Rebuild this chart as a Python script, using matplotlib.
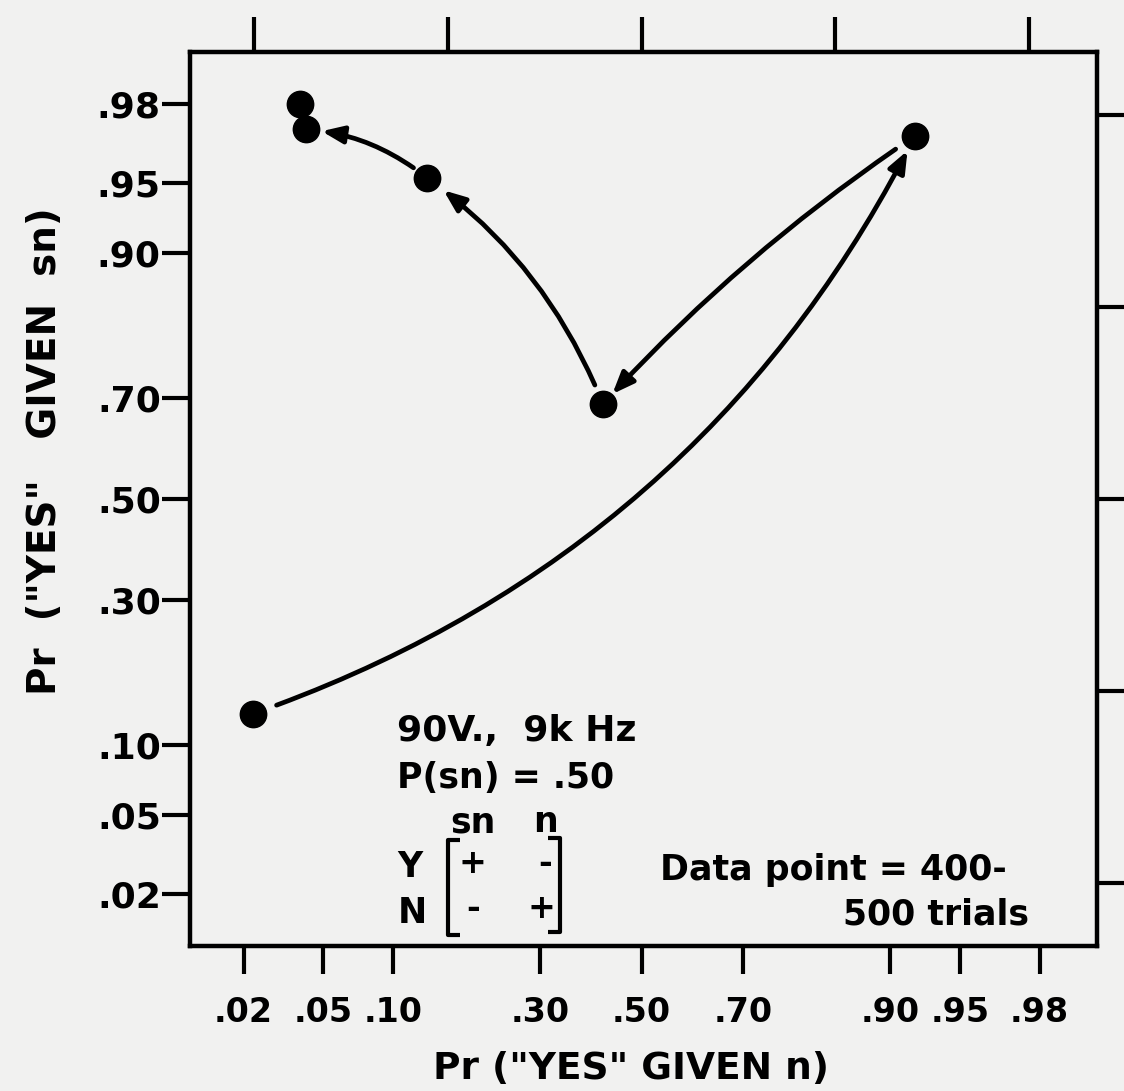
import numpy as np
import matplotlib
matplotlib.use("Agg")
import matplotlib.pyplot as plt
from matplotlib.patches import FancyArrowPatch
from statistics import NormalDist

# ROC points on normal-normal axes
p_yes_n = [0.0225, 0.421, 0.921, 0.134, 0.0419, 0.0389]
p_yes_sn = [0.132, 0.689, 0.9706, 0.9527, 0.9728, 0.980]

# order of the sessions (arrows go from one point to the next)
arrow_from = [0, 2, 1, 3]
arrow_to = [2, 1, 3, 4]
arrow_bend = [0.20, 0.06, 0.145, 0.15]

tick_probs = [0.02, 0.05, 0.10, 0.30, 0.50, 0.70, 0.90, 0.95, 0.98]
tick_labels = [".02", ".05", ".10", ".30", ".50", ".70", ".90", ".95", ".98"]
z_ticks = [-2, -1, 0, 1, 2]

ND = NormalDist()


def probit(p):
    p = np.clip(np.asarray(p, dtype=float), 1e-9, 1 - 1e-9)
    return np.vectorize(ND.inv_cdf, otypes=[float])(p)


def probit_inv(z):
    z = np.asarray(z, dtype=float)
    return np.vectorize(ND.cdf, otypes=[float])(z)


plt.rcParams['font.family'] = ['DejaVu Sans']
plt.rcParams['font.weight'] = 'bold'
bg = '#f1f1f0'

fig = plt.figure(figsize=(11.24, 10.91), dpi=100, facecolor=bg)
ax = fig.add_axes([190 / 1124, 1 - 946 / 1091, 907 / 1124, 894 / 1091])
ax.set_facecolor(bg)

ax.set_xscale('function', functions=(probit, probit_inv))
ax.set_yscale('function', functions=(probit, probit_inv))
xlim = (ND.cdf(-2.33), ND.cdf(2.35))
ylim = (ND.cdf(-2.326), ND.cdf(2.326))
ax.set_xlim(xlim)
ax.set_ylim(ylim)

ax.set_xticks(tick_probs, tick_labels)
ax.set_yticks(tick_probs, tick_labels)
ax.tick_params(axis='both', direction='out', length=20, width=3, color='k')
ax.tick_params(axis='x', labelsize=24, pad=16)
ax.tick_params(axis='y', labelsize=26, pad=1)
for s in ax.spines.values():
    s.set_linewidth(3.2)

# unlabeled ticks at whole z-units on top and right
ax_top = ax.twiny()
ax_top.set_xscale('function', functions=(probit, probit_inv))
ax_top.set_xlim(xlim)
ax_top.set_xticks(probit_inv(z_ticks))
ax_top.tick_params(axis='x', direction='out', length=25, width=3, labeltop=False)
ax_right = ax.twinx()
ax_right.set_yscale('function', functions=(probit, probit_inv))
ax_right.set_ylim(ylim)
ax_right.set_yticks(probit_inv(z_ticks))
ax_right.tick_params(axis='y', direction='out', length=25, width=3, labelright=False)
for a in (ax_top, ax_right):
    for s in a.spines.values():
        s.set_visible(False)

ax.set_xlabel('Pr ("YES" GIVEN n)', fontsize=27, fontweight='bold')
ax.xaxis.set_label_coords(0.486, -0.117)
ax.set_ylabel('Pr  ("YES"   GIVEN  sn)', fontsize=28, fontweight='bold')
ax.yaxis.set_label_coords(-0.139, 0.553)

ax.plot(p_yes_n, p_yes_sn, 'o', color='k', ms=19, zorder=4, clip_on=False)

shrink_a = [18, 17, 15, 12]
shrink_b = [12, 10, 15, 11]
for i in range(len(arrow_from)):
    a, b = arrow_from[i], arrow_to[i]
    arr = FancyArrowPatch((p_yes_n[a], p_yes_sn[a]), (p_yes_n[b], p_yes_sn[b]),
                          connectionstyle=f'arc3,rad={arrow_bend[i]}',
                          arrowstyle='-|>,head_length=0.65,head_width=0.26',
                          mutation_scale=20, lw=3.4, color='k',
                          shrinkA=shrink_a[i], shrinkB=shrink_b[i], zorder=3)
    ax.add_patch(arr)

tr = ax.transAxes
ax.text(0.228, 0.2293, '90V.,  9k Hz', transform=tr, fontsize=26, va='baseline')
ax.text(0.228, 0.1767, 'P(sn) = .50', transform=tr, fontsize=25, va='baseline')
ax.text(0.2866, 0.1275, 'sn', transform=tr, fontsize=25, va='baseline')
ax.text(0.378, 0.1275, 'n', transform=tr, fontsize=25, va='baseline')
ax.text(0.229, 0.0772, 'Y', transform=tr, fontsize=25, va='baseline')
ax.text(0.229, 0.0257, 'N', transform=tr, fontsize=25, va='baseline')
ax.text(0.311, 0.0928, '+', transform=tr, fontsize=24, ha='center', va='center')
ax.text(0.391, 0.0928, '-', transform=tr, fontsize=24, ha='center', va='center')
ax.text(0.312, 0.0425, '-', transform=tr, fontsize=24, ha='center', va='center')
ax.text(0.388, 0.0425, '+', transform=tr, fontsize=24, ha='center', va='center')
# matrix brackets
ax.plot([0.2977, 0.2845, 0.2845, 0.2977], [0.1186, 0.1186, 0.0123, 0.0123],
        color='k', lw=3, transform=tr, solid_capstyle='butt')
ax.plot([0.3947, 0.408, 0.408, 0.3947], [0.1208, 0.1208, 0.0157, 0.0157],
        color='k', lw=3, transform=tr, solid_capstyle='butt')

ax.text(0.9008, 0.0738, 'Data point = 400-', transform=tr, fontsize=25,
        ha='right', va='baseline')
ax.text(0.925, 0.0246, '500 trials', transform=tr, fontsize=25,
        ha='right', va='baseline')

fig.savefig('out.png', dpi=100, facecolor=bg)
